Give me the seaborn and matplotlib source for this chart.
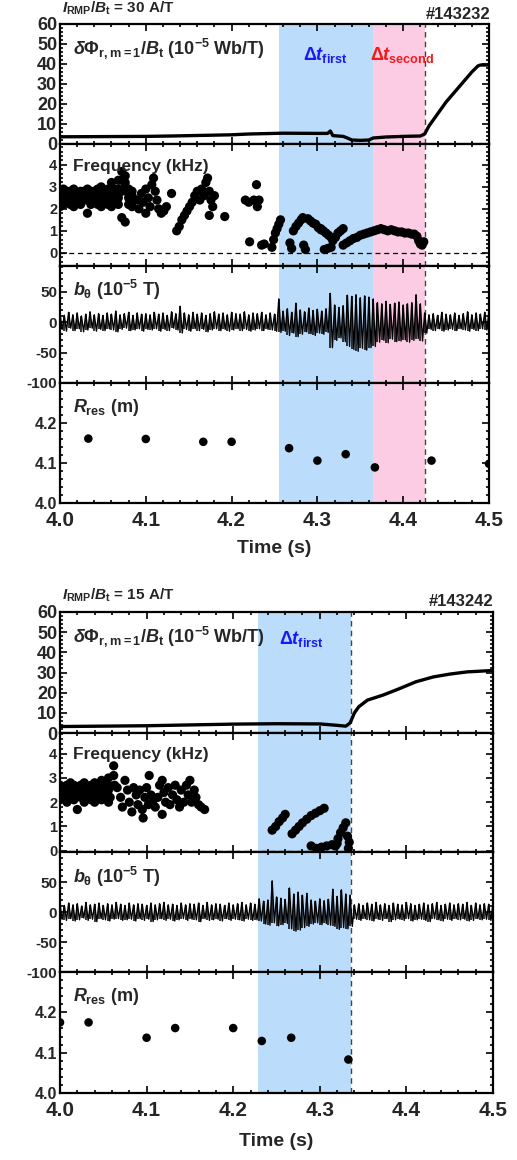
import numpy as np
import matplotlib
matplotlib.use('Agg')
import matplotlib.pyplot as plt
import seaborn as sns
from matplotlib.ticker import MultipleLocator, FormatStrFormatter

# ---------------- shot #143232 (30 A/T) ----------------
flux1_t = [4.000, 4.050, 4.100, 4.130, 4.200, 4.220, 4.260, 4.300, 4.312, 4.315,
           4.318, 4.330, 4.335, 4.340, 4.350, 4.360, 4.365, 4.380, 4.400, 4.420,
           4.425, 4.430, 4.435, 4.440, 4.450, 4.460, 4.470, 4.480, 4.487, 4.490, 4.500]
flux1_v = [3.6, 3.7, 3.8, 4.0, 4.6, 5.0, 5.4, 5.3, 5.3, 6.5,
           4.2, 3.8, 3.0, 2.0, 1.8, 2.0, 3.0, 3.5, 3.8, 4.0,
           5.0, 9.0, 12.0, 15.0, 21.0, 26.0, 31.0, 36.0, 39.0, 39.5, 39.5]

freq1_band_t = [4.000, 4.004, 4.008, 4.012, 4.016, 4.020, 4.024, 4.028, 4.032, 4.036, 4.040,
                4.044, 4.048, 4.052, 4.056, 4.060, 4.064, 4.068, 4.072, 4.076, 4.080, 4.084]
freq1_band_hi = [2.8, 2.9, 2.7, 2.8, 2.9, 2.7, 2.8, 2.6, 2.9, 2.8, 2.7,
                 2.9, 3.0, 2.8, 2.9, 3.2, 2.9, 3.3, 3.7, 3.5, 2.9, 2.8]
freq1_band_up = [2.7, 2.6, 2.8, 2.7, 2.6, 2.7, 2.7, 2.8, 2.6, 2.7, 2.8,
                 2.7, 2.6, 2.8, 2.7, 2.8, 2.7, 2.9, 3.3, 3.2, 2.7, 2.6]
freq1_band_mid = [2.5, 2.4, 2.6, 2.5, 2.4, 2.5, 2.6, 2.5, 2.4, 2.5, 2.6,
                  2.5, 2.4, 2.6, 2.5, 2.4, 2.6, 2.5, 2.8, 3.0, 2.5, 2.4]
freq1_band_lo = [2.1, 2.2, 2.3, 2.2, 2.1, 2.3, 2.2, 2.4, 1.8, 2.2, 2.3,
                 2.2, 2.1, 2.3, 2.2, 2.1, 2.3, 2.2, 1.6, 1.4, 2.2, 2.1]
freq1_t = [4.090, 4.092, 4.095, 4.097, 4.100, 4.100, 4.103, 4.105, 4.107, 4.109, 4.111, 4.113,
           4.115, 4.118, 4.121, 4.124, 4.130,
           4.136, 4.139, 4.142, 4.145, 4.148, 4.151, 4.154,
           4.157, 4.160, 4.163, 4.165, 4.168, 4.170, 4.172, 4.174, 4.176, 4.178, 4.174, 4.180, 4.192,
           4.216, 4.220, 4.226, 4.229, 4.230, 4.232,
           4.221, 4.235, 4.238,
           4.247, 4.249, 4.251, 4.253, 4.255, 4.257,
           4.268, 4.270, 4.272, 4.275, 4.278, 4.281, 4.283, 4.284, 4.286,
           4.289, 4.292, 4.295, 4.298, 4.301, 4.304,
           4.304, 4.307, 4.310, 4.313, 4.316,
           4.308, 4.312, 4.316,
           4.318, 4.321, 4.324, 4.327, 4.330,
           4.330, 4.334, 4.338, 4.342, 4.346, 4.350, 4.354, 4.358, 4.362, 4.366,
           4.370, 4.374, 4.378, 4.382, 4.386, 4.390, 4.394, 4.398, 4.402, 4.406, 4.410,
           4.413, 4.416, 4.418, 4.420, 4.422, 4.424]
freq1_f = [2.4, 2.0, 2.7, 2.3, 2.9, 1.8, 2.5, 2.1, 3.1, 3.4, 2.8, 2.4,
           2.0, 1.8, 1.9, 2.1, 2.7,
           1.0, 1.2, 1.5, 1.7, 1.9, 2.1, 2.3,
           2.6, 2.8, 2.4, 2.9, 2.6, 3.2, 3.4, 2.8, 2.4, 2.1, 1.7, 2.6, 1.65,
           2.4, 2.3, 2.4, 3.1, 2.1, 2.4,
           0.5, 0.35, 0.4,
           0.25, 0.6, 0.9, 1.1, 1.3, 1.5,
           0.45, 0.2, 1.0, 1.2, 1.35, 1.5, 1.6, 0.35, 0.15,
           1.55, 1.45, 1.35, 1.3, 1.15, 1.05,
           1.1, 1.0, 0.9, 0.8, 0.7,
           0.15, 0.2, 0.25,
           0.55, 0.7, 0.9, 1.0, 1.1,
           0.35, 0.45, 0.55, 0.65, 0.7, 0.8, 0.85, 0.9, 0.95, 1.0,
           1.05, 1.1, 1.05, 1.0, 1.05, 1.0, 0.95, 0.95, 0.9, 0.9, 0.85,
           0.85, 0.75, 0.55, 0.4, 0.35, 0.5]

# b_theta envelope every 5 ms from 4.000 s to 4.500 s
btheta1_hi = ([14, 11, 16, 12, 15, 10, 13, 17, 12, 14, 11, 15, 13, 18, 12, 14, 16, 11, 15, 13, 14]
              + [12, 16, 13, 15, 11, 17, 14, 26, 15, 12, 16, 13, 15, 11, 14,
                 17, 13, 15, 12, 16, 14, 13, 17, 12, 15, 14, 16, 12, 15, 13]
              + [38, 18, 22, 16, 31, 20, 17, 23, 19, 21, 18, 22]
              + [47, 28, 24, 27]
              + [44, 42, 45, 40, 43, 41, 38]
              + [32, 30, 34, 29, 31, 33, 28, 30, 32, 45, 30]
              + [15, 12, 14, 11, 16, 13, 12, 15, 11, 14, 17, 12, 15, 13, 16, 18])
btheta1_lo = ([-12, -15, -10, -14, -11, -16, -13, -10, -15, -12, -14, -11, -13, -16, -12,
               -10, -14, -13, -11, -15, -12]
              + [-13, -11, -15, -12, -14, -10, -13, -18, -12, -15, -11, -14, -12, -16, -13,
                 -11, -14, -12, -15, -13, -11, -14, -12, -15, -13, -11, -14, -12, -13, -15]
              + [-17, -15, -22, -18, -24, -20, -16, -19, -22, -18, -20, -17]
              + [-42, -30, -26, -32]
              + [-40, -45, -48, -43, -46, -42, -40]
              + [-33, -30, -34, -28, -32, -31, -29, -33, -30, -27, -31]
              + [-18, -12, -14, -11, -15, -13, -12, -14, -11, -13, -15, -12, -14, -11, -13, -12])

rres1_t = [4.033, 4.100, 4.167, 4.200, 4.267, 4.300, 4.333, 4.367, 4.433, 4.500]
rres1_r = [4.161, 4.160, 4.153, 4.153, 4.137, 4.106, 4.122, 4.089, 4.106, 4.098]

# ---------------- shot #143242 (15 A/T) ----------------
flux2_t = [4.000, 4.100, 4.200, 4.250, 4.300, 4.320, 4.330, 4.335, 4.340, 4.345,
           4.355, 4.373, 4.392, 4.411, 4.431, 4.450, 4.470, 4.500]
flux2_v = [3.2, 3.6, 4.4, 4.6, 4.5, 3.8, 3.4, 5.0, 10.0, 13.0,
           16.3, 18.8, 22.0, 25.4, 27.8, 29.2, 30.3, 31.0]

freq2_band_t = [4.000, 4.004, 4.008, 4.012, 4.016, 4.020, 4.024, 4.028, 4.032, 4.036,
                4.040, 4.044, 4.048, 4.052, 4.056]
freq2_band_hi = [2.7, 2.6, 2.7, 2.8, 2.7, 2.6, 2.7, 2.8, 2.6, 2.7, 2.8, 2.7, 2.9, 2.8, 3.0]
freq2_band_up = [2.6, 2.5, 2.6, 2.6, 2.5, 2.5, 2.6, 2.6, 2.5, 2.5, 2.6, 2.6, 2.7, 2.6, 2.7]
freq2_band_mid = [2.4, 2.3, 2.4, 2.5, 2.4, 2.3, 2.4, 2.5, 2.4, 2.3, 2.5, 2.4, 2.5, 2.4, 2.5]
freq2_band_lo = [2.1, 2.2, 2.0, 2.2, 2.1, 1.7, 2.2, 2.0, 2.2, 2.1, 2.0, 2.2, 2.1, 2.2, 2.0]
freq2_t = [4.062, 4.062, 4.063, 4.058, 4.066, 4.070, 4.072, 4.075, 4.078, 4.080, 4.083, 4.085,
           4.088, 4.090, 4.092, 4.095, 4.096, 4.098, 4.100, 4.102, 4.103, 4.105, 4.107,
           4.110, 4.113, 4.115, 4.118, 4.118, 4.120, 4.122, 4.125, 4.127, 4.130, 4.133, 4.135,
           4.138, 4.140, 4.143, 4.146, 4.148, 4.150, 4.152, 4.155, 4.157, 4.160, 4.163, 4.167,
           4.245, 4.249, 4.253, 4.257, 4.260,
           4.268, 4.272, 4.276, 4.280, 4.285, 4.290, 4.295, 4.300, 4.305,
           4.290, 4.296, 4.302, 4.308, 4.314, 4.320,
           4.318, 4.321, 4.324, 4.327, 4.330,
           4.332, 4.334, 4.333]
freq2_f = [3.5, 3.1, 2.7, 2.2, 2.6, 2.2, 1.8, 2.9, 2.5, 2.0, 1.6, 2.6,
           2.3, 1.9, 2.5, 1.7, 1.35, 2.2, 2.6, 1.9, 3.1, 2.3, 2.0,
           1.8, 2.2, 2.7, 2.9, 1.5, 2.4, 2.0, 2.6, 1.9, 2.3, 2.7, 2.1,
           1.8, 2.5, 2.0, 2.7, 2.3, 2.9, 2.0, 2.5, 2.2, 1.9, 1.8, 1.7,
           0.85, 1.0, 1.2, 1.35, 1.5,
           0.7, 0.85, 1.0, 1.15, 1.3, 1.45, 1.55, 1.65, 1.75,
           0.2, 0.1, 0.15, 0.2, 0.25, 0.3,
           0.2, 0.5, 0.75, 0.95, 1.15,
           0.6, 0.35, 0.1]

btheta2_hi = ([13, 11, 15, 12, 14, 10, 16, 12, 13, 15, 11, 14, 12, 16, 13, 11, 15, 12, 14, 13,
               11, 15, 12, 14, 16, 12, 13, 11, 15, 12, 14, 13, 15, 11, 16, 12, 14, 13, 11, 15,
               12, 14, 16, 12, 15, 13]
              + [22, 18, 20, 52, 25, 23, 21]
              + [40, 30, 33, 28, 31]
              + [20, 18, 22, 19, 21, 38]
              + [26, 37, 30, 28]
              + [12, 14, 11, 15, 13, 16, 12, 14, 11, 15, 13, 12, 16, 14, 11, 13, 15, 12, 14, 16,
                 11, 13, 15, 12, 14, 13, 16, 11, 15, 12, 14, 13, 15])
btheta2_lo = ([-12, -14, -11, -15, -13, -10, -14, -12, -16, -11, -13, -15, -12, -11, -14,
               -13, -12, -15, -11, -14, -12, -16, -13, -11, -14, -12, -15, -13, -11, -14,
               -12, -13, -16, -11, -14, -13, -12, -15, -11, -14, -12, -13, -15, -12, -14, -13]
              + [-15, -20, -22, -18, -23, -21, -19]
              + [-28, -32, -30, -26, -24]
              + [-20, -18, -21, -19, -22, -24]
              + [-29, -26, -28, -24]
              + [-12, -14, -11, -13, -15, -12, -14, -11, -16, -13, -12, -14, -11, -15, -13,
                 -12, -14, -16, -11, -13, -15, -12, -14, -11, -13, -12, -15, -14, -11, -13,
                 -12, -14, -13])

rres2_t = [4.000, 4.033, 4.100, 4.133, 4.200, 4.233, 4.267, 4.333]
rres2_r = [4.175, 4.175, 4.137, 4.161, 4.161, 4.129, 4.137, 4.083]

# time windows
first1, second1 = (4.255, 4.365), (4.365, 4.425)
first2 = (4.229, 4.336)

BLUE = '#BBDCFA'
PINK = '#FCCCE4'

sns.set_theme(style='ticks')
plt.rcParams['font.family'] = ['Liberation Sans', 'DejaVu Sans']
plt.rcParams['font.weight'] = 'bold'
plt.rcParams['axes.unicode_minus'] = False
plt.rcParams['mathtext.fontset'] = 'custom'
plt.rcParams['mathtext.rm'] = 'Liberation Sans:bold'
plt.rcParams['mathtext.it'] = 'Liberation Sans:italic:bold'
plt.rcParams['mathtext.bf'] = 'Liberation Sans:bold'

W, H = 517, 1160
fig = plt.figure(figsize=(W / 100, H / 100), dpi=100)


def make_axes(left, right, rows):
    axs = []
    for top, bot in zip(rows[:-1], rows[1:]):
        axs.append(fig.add_axes([left / W, 1 - bot / H, (right - left) / W, (bot - top) / H]))
    return axs


def style(ax, ylim, ticks, minor, size, last=False):
    ax.set_xlim(4.0, 4.5)
    ax.set_ylim(*ylim)
    ax.xaxis.set_major_locator(MultipleLocator(0.1))
    ax.xaxis.set_minor_locator(MultipleLocator(0.02))
    ax.set_yticks(ticks)
    ax.yaxis.set_minor_locator(MultipleLocator(minor))
    ax.tick_params(which='both', direction='in', top=True, right=True, width=1.2,
                   color='black', pad=2)
    ax.tick_params(axis='y', labelsize=size)
    ax.tick_params(axis='x', labelsize=15, labelbottom=last, pad=5.5)
    ax.tick_params(which='major', length=5)
    ax.tick_params(which='minor', length=2.5)
    for s in ax.spines.values():
        s.set_linewidth(1.6)
        s.set_color('black')
    ax.set_xlabel('')
    ax.set_ylabel('')


def spans(ax, first, second=None):
    ax.axvspan(*first, color=BLUE, lw=0, zorder=0)
    end = first[1]
    if second is not None:
        ax.axvspan(*second, color=PINK, lw=0, zorder=0)
        end = second[1]
    ax.axvline(end, color='#444444', lw=1, dashes=(4, 3), zorder=1)


def zigzag(hi, lo):
    t = 4.0 + 0.005 * np.arange(len(hi))
    zt = np.column_stack([t, t + 0.0025]).ravel()
    zv = np.column_stack([hi, lo]).ravel()
    return t, zt, zv


def draw_shot(axs, flux_t, flux_v, band_t, band_rows, ft, ff, bhi, blo, rt, rr,
              first, second, freq_ylim, b_ylim, label_pos):
    a1, a2, a3, a4 = axs
    for ax in axs:
        spans(ax, first, second)

    sns.lineplot(x=flux_t, y=flux_v, color='black', lw=2.4, ax=a1, zorder=3)
    style(a1, (0, 60), list(range(0, 61, 10)), 2, 13)
    a1.text(0.03, 0.75, r'$\mathit{\delta\Phi}_{\mathrm{r,m=1}}/B_{\mathrm{t}}$ (10$^{-5}$ Wb/T)',
            transform=a1.transAxes, fontsize=13, va='baseline')
    a1.text(label_pos[0], label_pos[1], r'$\mathit{\Delta t}_{\mathrm{first}}$',
            color='#1A1AF0', fontsize=13, va='baseline')
    if second is not None:
        a1.text(label_pos[2], label_pos[1], r'$\mathit{\Delta t}_{\mathrm{second}}$',
                color='#F01A1A', fontsize=13, va='baseline')

    all_t = list(band_t) * len(band_rows) + list(ft)
    all_f = [v for row in band_rows for v in row] + list(ff)
    a2.axhline(0, color='black', lw=0.9, dashes=(4, 3), zorder=1)
    sns.scatterplot(x=all_t, y=all_f, color='black', s=44, edgecolor='none', ax=a2, zorder=3)
    style(a2, freq_ylim, [0, 1, 2, 3, 4], 0.2, 10.5)
    a2.text(0.03, 0.78, 'Frequency (kHz)', transform=a2.transAxes, fontsize=12.5, va='baseline')

    t, zt, zv = zigzag(bhi, blo)
    a3.vlines(t, blo, bhi, color='black', lw=1.1, zorder=3)
    sns.lineplot(x=zt, y=zv, sort=False, estimator=None, color='black', lw=1.0, ax=a3, zorder=3)
    style(a3, b_ylim, [-100, -50, 0, 50], 10, 11)
    a3.text(0.03, 0.74, r'$b_{\mathrm{\theta}}$ (10$^{-5}$ T)', transform=a3.transAxes,
            fontsize=13, va='baseline')

    sns.scatterplot(x=rt, y=rr, color='black', s=38, edgecolor='none', ax=a4, zorder=3)
    style(a4, (4.0, 4.3), [4.0, 4.1, 4.2], 0.02, 11.5, last=True)
    a4.yaxis.set_major_formatter(FormatStrFormatter('%.1f'))
    a4.text(0.03, 0.76, r'$R_{\mathrm{res}}$ (m)', transform=a4.transAxes,
            fontsize=13, va='baseline')


axs1 = make_axes(60, 489, [24, 144, 266, 383, 503])
draw_shot(axs1, flux1_t, flux1_v, freq1_band_t,
          [freq1_band_hi, freq1_band_up, freq1_band_mid, freq1_band_lo], freq1_t, freq1_f,
          btheta1_hi, btheta1_lo, rres1_t, rres1_r, first1, second1,
          (-0.6, 4.95), (-100, 92), (4.283, 42, 4.361))

axs2 = make_axes(60, 493, [612, 733, 852, 972, 1093])
draw_shot(axs2, flux2_t, flux2_v, freq2_band_t,
          [freq2_band_hi, freq2_band_up, freq2_band_mid, freq2_band_lo], freq2_t, freq2_f,
          btheta2_hi, btheta2_lo, rres2_t, rres2_r, first2, None,
          (-0.05, 4.85), (-100, 100), (4.253, 44, None))

# headers and x labels
fig.text(62 / W, 1 - 13 / H, r'$I_{\mathrm{RMP}}/B_{\mathrm{t}}$ = 30 A/T', fontsize=11, va='baseline')
fig.text(490 / W, 1 - 19 / H, '#143232', fontsize=12, ha='right', va='baseline')
fig.text(274 / W, 1 - 549 / H, 'Time (s)', fontsize=14, ha='center', va='center')

fig.text(62 / W, 1 - 600 / H, r'$I_{\mathrm{RMP}}/B_{\mathrm{t}}$ = 15 A/T', fontsize=11, va='baseline')
fig.text(493 / W, 1 - 606 / H, '#143242', fontsize=12, ha='right', va='baseline')
fig.text(276 / W, 1 - 1141 / H, 'Time (s)', fontsize=14, ha='center', va='center')

fig.savefig('out.png', dpi=100)
